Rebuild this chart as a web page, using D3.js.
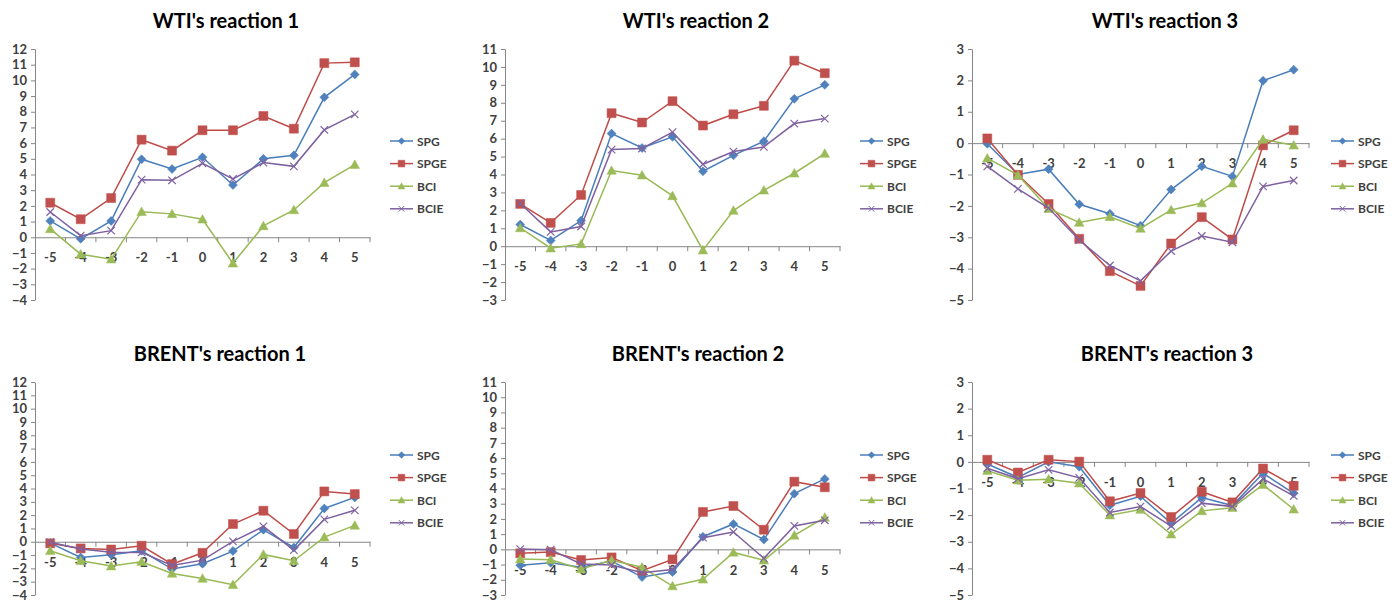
<!DOCTYPE html>
<html>
<head>
<meta charset="utf-8">
<script src="https://cdn.jsdelivr.net/npm/d3@7"></script>
<style>
  html, body { margin: 0; padding: 0; background: #fff; }
  svg { display: block; }
</style>
</head>
<body>
<svg id="chart"></svg>
<script>
// categories (event days) shared by every panel
const categories = ['-5', '-4', '-3', '-2', '-1', '0', '1', '2', '3', '4', '5'];
const seriesNames = ['SPG', 'SPGE', 'BCI', 'BCIE'];

// WTI's reaction 1
const wti1SPG  = [1.04, -0.1, 1.04, 4.97, 4.35, 5.1, 3.33, 5.0, 5.22, 8.92, 10.38];
const wti1SPGE = [2.2, 1.15, 2.5, 6.22, 5.52, 6.82, 6.82, 7.73, 6.92, 11.1, 11.15];
const wti1BCI  = [0.53, -1.08, -1.4, 1.63, 1.49, 1.15, -1.66, 0.72, 1.74, 3.48, 4.63];
const wti1BCIE = [1.61, 0.1, 0.42, 3.67, 3.63, 4.71, 3.72, 4.76, 4.52, 6.84, 7.83];

// WTI's reaction 2
const wti2SPG  = [1.21, 0.32, 1.43, 6.28, 5.48, 6.1, 4.18, 5.07, 5.86, 8.22, 9.0];
const wti2SPGE = [2.36, 1.3, 2.86, 7.42, 6.9, 8.09, 6.73, 7.36, 7.83, 10.35, 9.65];
const wti2BCI  = [1.02, -0.11, 0.13, 4.22, 3.96, 2.81, -0.22, 1.99, 3.12, 4.07, 5.17];
const wti2BCIE = [2.38, 0.8, 1.1, 5.39, 5.45, 6.36, 4.57, 5.28, 5.54, 6.84, 7.12];

// WTI's reaction 3
const wti3SPG  = [-0.02, -1.0, -0.83, -1.95, -2.25, -2.63, -1.48, -0.74, -1.06, 1.99, 2.34];
const wti3SPGE = [0.15, -1.01, -1.94, -3.05, -4.08, -4.55, -3.2, -2.36, -3.07, -0.07, 0.41];
const wti3BCI  = [-0.48, -1.02, -2.09, -2.53, -2.35, -2.72, -2.13, -1.91, -1.28, 0.12, -0.07];
const wti3BCIE = [-0.74, -1.46, -2.07, -3.09, -3.9, -4.39, -3.44, -2.96, -3.16, -1.38, -1.19];

// BRENT's reaction 1
const brent1SPG  = [-0.1, -1.18, -0.98, -0.68, -2.05, -1.65, -0.7, 0.9, -0.43, 2.5, 3.33];
const brent1SPGE = [-0.12, -0.5, -0.58, -0.3, -1.68, -0.83, 1.33, 2.33, 0.58, 3.78, 3.58];
const brent1BCI  = [-0.68, -1.43, -1.83, -1.5, -2.38, -2.76, -3.23, -0.95, -1.43, 0.35, 1.23];
const brent1BCIE = [-0.03, -0.55, -0.78, -0.8, -1.78, -1.38, 0.03, 1.15, -0.63, 1.68, 2.36];

// BRENT's reaction 2
const brent2SPG  = [-1.05, -0.88, -1.18, -0.77, -1.82, -1.49, 0.83, 1.67, 0.64, 3.66, 4.63];
const brent2SPGE = [-0.26, -0.18, -0.7, -0.53, -1.4, -0.66, 2.46, 2.85, 1.29, 4.45, 4.08];
const brent2BCI  = [-0.64, -0.68, -1.29, -0.72, -1.18, -2.41, -1.97, -0.2, -0.72, 0.92, 2.1];
const brent2BCIE = [0.02, -0.02, -0.96, -1.03, -1.54, -1.32, 0.77, 1.14, -0.59, 1.54, 1.91];

// BRENT's reaction 3
const brent3SPG  = [-0.08, -0.58, 0.0, -0.18, -1.63, -1.29, -2.31, -1.34, -1.64, -0.43, -1.18];
const brent3SPGE = [0.08, -0.4, 0.08, 0.01, -1.48, -1.17, -2.07, -1.12, -1.52, -0.25, -0.9];
const brent3BCI  = [-0.33, -0.69, -0.65, -0.8, -2.0, -1.79, -2.72, -1.84, -1.72, -0.86, -1.78];
const brent3BCIE = [-0.24, -0.63, -0.3, -0.6, -1.9, -1.68, -2.41, -1.55, -1.68, -0.64, -1.28];

// y axis extents of each panel
const wtiDomains   = [[-4, 12], [-3, 11], [-5, 3]];
const brentDomains = [[-4, 12], [-3, 11], [-5, 3]];

const width = 1395;
const height = 603;

const lineColors   = { SPG: '#4A7EBB', SPGE: '#BE4B48', BCI: '#98B954', BCIE: '#7D60A0' };
const markerColors = { SPG: '#4F81BD', SPGE: '#C0504D', BCI: '#9BBB59', BCIE: '#8064A2' };
const axisColor = '#868686';
const textColor = '#404040';

// custom marker shapes (excel style)
const diamond = { draw(ctx, s) { const r = Math.sqrt(s) / 2; ctx.moveTo(0, -r); ctx.lineTo(r, 0); ctx.lineTo(0, r); ctx.lineTo(-r, 0); ctx.closePath(); } };
const square  = { draw(ctx, s) { const r = Math.sqrt(s) / 2; ctx.rect(-r, -r, 2 * r, 2 * r); } };
const tri     = { draw(ctx, s) { const r = Math.sqrt(s) / 2; ctx.moveTo(0, -r); ctx.lineTo(r, r * 0.8); ctx.lineTo(-r, r * 0.8); ctx.closePath(); } };
const cross   = { draw(ctx, s) { const r = Math.sqrt(s) / 2; ctx.moveTo(-r, -r); ctx.lineTo(r, r); ctx.moveTo(-r, r); ctx.lineTo(r, -r); } };
const markers = {
  SPG:  { type: diamond, size: 81 },
  SPGE: { type: square,  size: 81 },
  BCI:  { type: tri,     size: 90 },
  BCIE: { type: cross,   size: 56 }
};

const panels = [
  { title: "WTI's reaction 1",   domain: wtiDomains[0],   data: [wti1SPG, wti1SPGE, wti1BCI, wti1BCIE],
    x0: 35,  x1: 370,  yTop: 49,  yBot: 300, titleX: 226,  titleY: 20,  legX: 390,  legY: 141 },
  { title: "WTI's reaction 2",   domain: wtiDomains[1],   data: [wti2SPG, wti2SPGE, wti2BCI, wti2BCIE],
    x0: 505, x1: 840,  yTop: 49,  yBot: 300, titleX: 696,  titleY: 20,  legX: 860,  legY: 141 },
  { title: "WTI's reaction 3",   domain: wtiDomains[2],   data: [wti3SPG, wti3SPGE, wti3BCI, wti3BCIE],
    x0: 972, x1: 1309, yTop: 49,  yBot: 300, titleX: 1165, titleY: 20,  legX: 1331, legY: 141 },
  { title: "BRENT's reaction 1", domain: brentDomains[0], data: [brent1SPG, brent1SPGE, brent1BCI, brent1BCIE],
    x0: 35,  x1: 370,  yTop: 382, yBot: 595, titleX: 220,  titleY: 353, legX: 390,  legY: 455 },
  { title: "BRENT's reaction 2", domain: brentDomains[1], data: [brent2SPG, brent2SPGE, brent2BCI, brent2BCIE],
    x0: 505, x1: 840,  yTop: 382, yBot: 595, titleX: 698,  titleY: 353, legX: 860,  legY: 455 },
  { title: "BRENT's reaction 3", domain: brentDomains[2], data: [brent3SPG, brent3SPGE, brent3BCI, brent3BCIE],
    x0: 972, x1: 1309, yTop: 382, yBot: 595, titleX: 1167, titleY: 353, legX: 1331, legY: 455 }
];

const svg = d3.select('#chart')
  .attr('width', width)
  .attr('height', height)
  .style('font-family', 'Lato, "Open Sans", sans-serif');

svg.append('rect').attr('width', width).attr('height', height).attr('fill', '#fff');

panels.forEach(p => {
  const g = svg.append('g');

  const x = d3.scaleBand().domain(categories).range([p.x0, p.x1]);
  const y = d3.scaleLinear().domain(p.domain).range([p.yBot, p.yTop]);
  const zero = y(0);

  // title
  g.append('text')
    .attr('x', p.titleX)
    .attr('y', p.titleY)
    .attr('text-anchor', 'middle')
    .attr('dominant-baseline', 'central')
    .attr('font-size', 20)
    .attr('font-weight', 'bold')
    .attr('fill', '#000')
    .text(p.title);

  // y axis
  const yAxis = g.append('g')
    .attr('transform', `translate(${p.x0},0)`)
    .call(d3.axisLeft(y)
      .tickValues(d3.range(p.domain[0], p.domain[1] + 1))
      .tickFormat(d3.format('d'))
      .tickSize(4)
      .tickSizeOuter(0)
      .tickPadding(4));
  yAxis.select('.domain').attr('stroke', axisColor);
  yAxis.selectAll('line').attr('stroke', axisColor);
  yAxis.selectAll('text')
    .attr('fill', textColor)
    .style('font-size', '13px')
    .style('font-weight', 'bold')
    .style('font-family', 'Lato, sans-serif');

  // x axis sits on the zero line, labels just below it
  const xAxis = g.append('g')
    .attr('transform', `translate(0,${zero})`)
    .call(d3.axisBottom(x).tickSize(0).tickSizeOuter(0).tickPadding(16));
  xAxis.select('.domain').attr('stroke', axisColor);
  xAxis.selectAll('text')
    .attr('fill', textColor)
    .style('font-size', '13px')
    .style('font-weight', 'bold')
    .style('font-family', 'Lato, sans-serif');

  // tick marks between categories
  const bounds = d3.range(1, categories.length + 1).map(i => p.x0 + i * x.step());
  xAxis.selectAll('.bound')
    .data(bounds)
    .join('line')
    .attr('class', 'bound')
    .attr('x1', d => d).attr('x2', d => d)
    .attr('y1', 0).attr('y2', 5)
    .attr('stroke', axisColor);

  // series
  seriesNames.forEach((name, si) => {
    const values = p.data[si];
    const line = d3.line()
      .x((d, i) => x(categories[i]) + x.bandwidth() / 2)
      .y(d => y(d));

    g.append('path')
      .datum(values)
      .attr('fill', 'none')
      .attr('stroke', lineColors[name])
      .attr('stroke-width', 1.5)
      .attr('d', line);

    const m = markers[name];
    const sym = d3.symbol().type(m.type).size(m.size);
    g.selectAll(`.mk-${name}`)
      .data(values)
      .join('path')
      .attr('class', `mk-${name}`)
      .attr('transform', (d, i) => `translate(${x(categories[i]) + x.bandwidth() / 2},${y(d)})`)
      .attr('d', sym)
      .attr('fill', name === 'BCIE' ? 'none' : markerColors[name])
      .attr('stroke', markerColors[name])
      .attr('stroke-width', name === 'BCIE' ? 1.2 : 0.5);
  });

  // legend
  const legend = g.append('g').attr('transform', `translate(${p.legX},${p.legY})`);
  seriesNames.forEach((name, i) => {
    const row = legend.append('g').attr('transform', `translate(0,${i * 22.6})`);
    row.append('line')
      .attr('x1', 0).attr('x2', 23)
      .attr('stroke', lineColors[name])
      .attr('stroke-width', 1.5);
    const m = markers[name];
    row.append('path')
      .attr('transform', 'translate(11.5,0)')
      .attr('d', d3.symbol().type(m.type).size(m.size * 0.55))
      .attr('fill', name === 'BCIE' ? 'none' : markerColors[name])
      .attr('stroke', markerColors[name])
      .attr('stroke-width', name === 'BCIE' ? 1 : 0.5);
    row.append('text')
      .attr('x', 27)
      .attr('y', 0)
      .attr('dominant-baseline', 'central')
      .attr('font-size', 12)
      .attr('font-weight', 'bold')
      .attr('fill', textColor)
      .text(name);
  });
});
</script>
</body>
</html>
